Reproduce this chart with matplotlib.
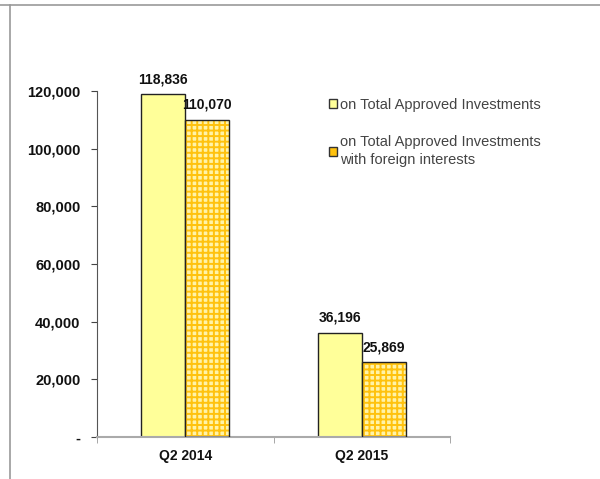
import matplotlib
matplotlib.use("Agg")
import matplotlib.pyplot as plt
from matplotlib.lines import Line2D
from matplotlib.patches import Patch

categories = ["Q2 2014", "Q2 2015"]
total_approved = [118836, 36196]
foreign_interest = [110070, 25869]
series_labels = ["on Total Approved Investments",
                 "on Total Approved Investments\nwith foreign interests"]
y_ticks = [0, 20000, 40000, 60000, 80000, 100000, 120000]
y_tick_labels = ["-", "20,000", "40,000", "60,000", "80,000", "100,000", "120,000"]

plt.rcParams["font.family"] = ["Liberation Sans", "DejaVu Sans"]
plt.rcParams["hatch.linewidth"] = 1.4

fig = plt.figure(figsize=(6.0, 4.79), dpi=100)
ax = fig.add_axes([0.1617, 0.0877, 0.5883, 0.7223])

x = list(range(len(categories)))
w = 0.25
c_plain = "#FFFF99"
c_check_bg = "#FFF3A8"
c_check = "#FFC20E"

x1 = [i - w / 2 for i in x]
x2 = [i + w / 2 for i in x]

ax.bar(x1, total_approved, width=w, color=c_plain, edgecolor="#222222", linewidth=1.0, zorder=2)
# checkered fill, then outline drawn on top
ax.bar(x2, foreign_interest, width=w, color=c_check_bg, edgecolor=c_check, hatch="+++", linewidth=0, zorder=2)
ax.bar(x2, foreign_interest, width=w, fill=False, edgecolor="#222222", linewidth=1.0, zorder=3)

for xs, vals in ((x1, total_approved), (x2, foreign_interest)):
    for xi, v in zip(xs, vals):
        ax.annotate(f"{v:,}", (xi, v), xytext=(0, 6), textcoords="offset points",
                    ha="center", va="bottom", fontsize=10, fontweight="bold", color="#111111")

ax.set_xlim(-0.5, 1.5)
ax.set_ylim(0, 120000)
ax.set_yticks(y_ticks)
ax.set_yticklabels(y_tick_labels, fontsize=10.5, fontweight="bold", color="#111111")
ax.set_xticks(x)
ax.set_xticklabels(categories, fontsize=10, fontweight="bold", color="#111111")
ax.set_xticks([-0.5, 0.5, 1.5], minor=True)
ax.tick_params(axis="x", which="major", length=0, pad=9)
ax.tick_params(axis="x", which="minor", length=4, color="#999999", direction="out")
ax.tick_params(axis="y", length=4, color="#444444", pad=8)

for s in ("top", "right"):
    ax.spines[s].set_visible(False)
ax.spines["left"].set_color("#555555")
ax.spines["bottom"].set_color("#aaaaaa")
ax.spines["bottom"].set_linewidth(1.5)

handles = [Patch(facecolor=c_plain, edgecolor="#333333", linewidth=1.0),
           Patch(facecolor=c_check, edgecolor="#333333", linewidth=1.0)]
leg = fig.legend(handles, series_labels, loc="upper left", bbox_to_anchor=(0.527, 0.823),
                 frameon=False, fontsize=10.5, handlelength=0.55, handleheight=0.55,
                 handletextpad=0.2, labelspacing=1.6, labelcolor="#444444")
for t in leg.get_texts():
    t.set_linespacing(1.35)

# outer frame lines along top and left edges
fig.add_artist(Line2D([0.0, 1.0], [0.989, 0.989], transform=fig.transFigure, color="#999999", lw=1.2))
fig.add_artist(Line2D([0.016, 0.016], [0.0, 0.989], transform=fig.transFigure, color="#999999", lw=1.2))

fig.savefig("out.png", dpi=100)
